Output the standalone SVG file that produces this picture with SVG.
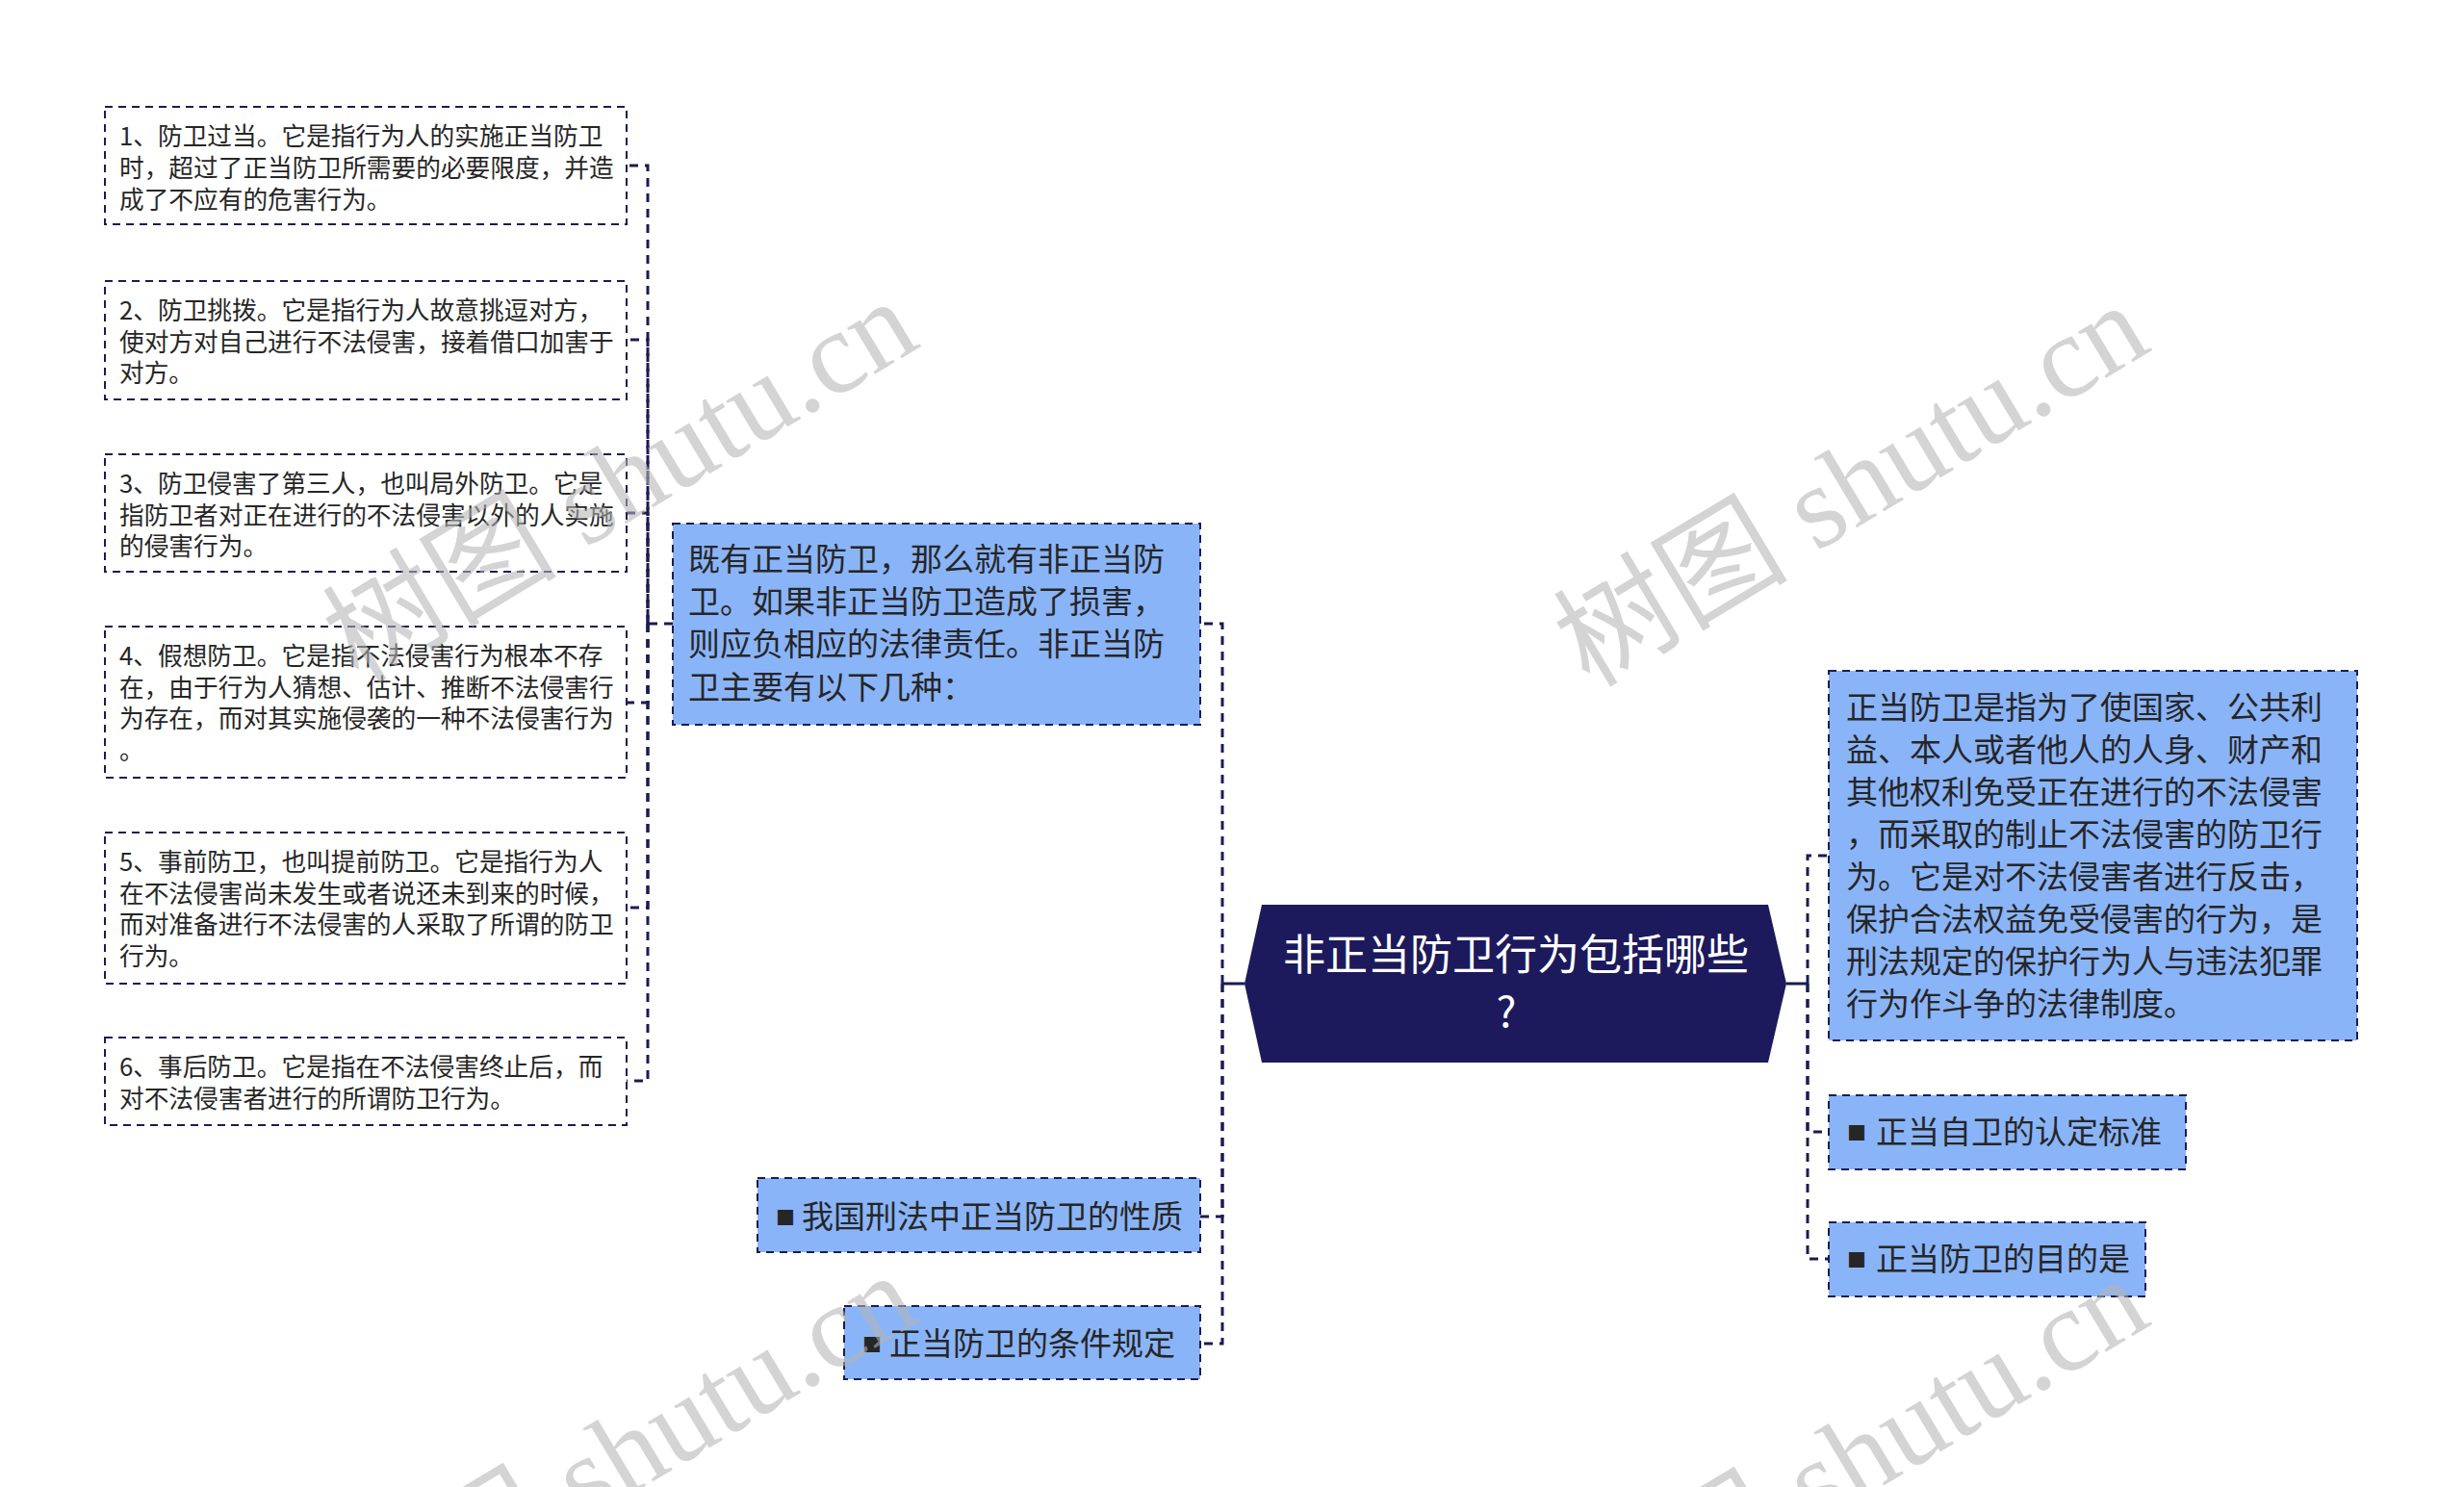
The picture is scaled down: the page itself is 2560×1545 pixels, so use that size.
<svg xmlns="http://www.w3.org/2000/svg" width="2560" height="1545" viewBox="0 0 2560 1545">
<style>
.box{fill:#ffffff;stroke:#1b1b54;stroke-width:2;stroke-dasharray:8 6}
.blue{fill:#8ab4f8;stroke:#1b1b54;stroke-width:2;stroke-dasharray:8 6}
.conn{fill:none;stroke:#1b1b54;stroke-width:3;stroke-dasharray:9 7}
.solid{fill:none;stroke:#1b1b54;stroke-width:3}
.t{font-family:"Noto Sans CJK SC","Noto Sans",sans-serif;fill:#262626}
.s{font-size:25.7px}
.m{font-size:33px}
.c{font-size:44px;fill:#ffffff}
.b{font-size:20px}
.wm{font-family:"Liberation Serif","Noto Sans CJK SC",serif;font-size:122px;fill:#b4b4b4;opacity:0.57}
</style>
<rect width="2560" height="1545" fill="#ffffff"/>
<g id="connectors">
<path class="solid" d="M1293,1022 H1270"/>
<path class="conn" d="M1270,1022 V648 H1247"/>
<path class="conn" d="M1270,1022 V1264 H1247"/>
<path class="conn" d="M1270,1022 V1396 H1247"/>
<path class="solid" d="M1856,1022 H1878"/>
<path class="conn" d="M1878,1022 V889 H1900"/>
<path class="conn" d="M1878,1022 V1176 H1900"/>
<path class="conn" d="M1878,1022 V1308 H1900"/>
<path class="conn" d="M699,648 H673 V172 H651"/>
<path class="conn" d="M673,648 V353 H651"/>
<path class="conn" d="M673,648 V533 H651"/>
<path class="conn" d="M673,648 V730 H651"/>
<path class="conn" d="M673,648 V943 H651"/>
<path class="conn" d="M673,648 V1123 H651"/>
</g>
<g id="center">
<polygon points="1311,940 1837,940 1856,1022 1837,1104 1311,1104 1293,1022" fill="#1c1a5c"/>
<text class="t c" x="1575" y="1008" text-anchor="middle">非正当防卫行为包括哪些</text>
<text class="t c" x="1565" y="1067" text-anchor="middle">?</text>
</g>
<g id="n-mid">
<rect class="blue" x="699" y="544" width="548" height="209"/>
<text class="t m"><tspan x="715" y="593">既有正当防卫，那么就有非正当防</tspan><tspan x="715" y="637">卫。如果非正当防卫造成了损害，</tspan><tspan x="715" y="681">则应负相应的法律责任。非正当防</tspan><tspan x="715" y="726">卫主要有以下几种：</tspan></text>
</g>
<g id="n-1">
<rect class="box" x="109" y="111" width="542" height="122"/>
<text class="t s"><tspan x="124" y="151">1、防卫过当。它是指行为人的实施正当防卫</tspan><tspan x="124" y="184">时，超过了正当防卫所需要的必要限度，并造</tspan><tspan x="124" y="217">成了不应有的危害行为。</tspan></text>
</g>
<g id="n-2">
<rect class="box" x="109" y="292" width="542" height="123"/>
<text class="t s"><tspan x="124" y="332">2、防卫挑拨。它是指行为人故意挑逗对方，</tspan><tspan x="124" y="365">使对方对自己进行不法侵害，接着借口加害于</tspan><tspan x="124" y="397">对方。</tspan></text>
</g>
<g id="n-3">
<rect class="box" x="109" y="472" width="542" height="122"/>
<text class="t s"><tspan x="124" y="512">3、防卫侵害了第三人，也叫局外防卫。它是</tspan><tspan x="124" y="545">指防卫者对正在进行的不法侵害以外的人实施</tspan><tspan x="124" y="577">的侵害行为。</tspan></text>
</g>
<g id="n-4">
<rect class="box" x="109" y="651" width="542" height="157"/>
<text class="t s"><tspan x="124" y="691">4、假想防卫。它是指不法侵害行为根本不存</tspan><tspan x="124" y="724">在，由于行为人猜想、估计、推断不法侵害行</tspan><tspan x="124" y="756">为存在，而对其实施侵袭的一种不法侵害行为</tspan><tspan x="124" y="789">。</tspan></text>
</g>
<g id="n-5">
<rect class="box" x="109" y="865" width="542" height="157"/>
<text class="t s"><tspan x="124" y="905">5、事前防卫，也叫提前防卫。它是指行为人</tspan><tspan x="124" y="938">在不法侵害尚未发生或者说还未到来的时候，</tspan><tspan x="124" y="970">而对准备进行不法侵害的人采取了所谓的防卫</tspan><tspan x="124" y="1003">行为。</tspan></text>
</g>
<g id="n-6">
<rect class="box" x="109" y="1078" width="542" height="91"/>
<text class="t s"><tspan x="124" y="1118">6、事后防卫。它是指在不法侵害终止后，而</tspan><tspan x="124" y="1151">对不法侵害者进行的所谓防卫行为。</tspan></text>
</g>
<g id="n-xingzhi">
<rect class="blue" x="787" y="1224" width="460" height="77"/>
<text class="t"><tspan class="b" x="806" y="1273">■</tspan><tspan class="m" x="833" y="1276">我国刑法中正当防卫的性质</tspan></text>
</g>
<g id="n-tiaojian">
<rect class="blue" x="877" y="1357" width="370" height="76"/>
<text class="t"><tspan class="b" x="896" y="1405">■</tspan><tspan class="m" x="924" y="1408">正当防卫的条件规定</tspan></text>
</g>
<g id="n-def">
<rect class="blue" x="1900" y="697" width="549" height="384"/>
<text class="t m"><tspan x="1918" y="747">正当防卫是指为了使国家、公共利</tspan><tspan x="1918" y="791">益、本人或者他人的人身、财产和</tspan><tspan x="1918" y="835">其他权利免受正在进行的不法侵害</tspan><tspan x="1918" y="879">，而采取的制止不法侵害的防卫行</tspan><tspan x="1918" y="923">为。它是对不法侵害者进行反击，</tspan><tspan x="1918" y="967">保护合法权益免受侵害的行为，是</tspan><tspan x="1918" y="1011">刑法规定的保护行为人与违法犯罪</tspan><tspan x="1918" y="1055">行为作斗争的法律制度。</tspan></text>
</g>
<g id="n-biaozhun">
<rect class="blue" x="1900" y="1138" width="371" height="77"/>
<text class="t"><tspan class="b" x="1919" y="1185">■</tspan><tspan class="m" x="1949" y="1188">正当自卫的认定标准</tspan></text>
</g>
<g id="n-mudi">
<rect class="blue" x="1900" y="1270" width="329" height="77"/>
<text class="t"><tspan class="b" x="1919" y="1317">■</tspan><tspan class="m" x="1949" y="1320">正当防卫的目的是</tspan></text>
</g>
<g id="watermarks">
<text class="wm" x="648" y="540" text-anchor="middle" transform="rotate(-31 648 506)">树图 shutu.cn</text>
<text class="wm" x="1927" y="544" text-anchor="middle" transform="rotate(-31 1927 510)">树图 shutu.cn</text>
<text class="wm" x="648" y="1552" text-anchor="middle" transform="rotate(-31 648 1518)">树图 shutu.cn</text>
<text class="wm" x="1927" y="1556" text-anchor="middle" transform="rotate(-31 1927 1522)">树图 shutu.cn</text>
</g>
</svg>
